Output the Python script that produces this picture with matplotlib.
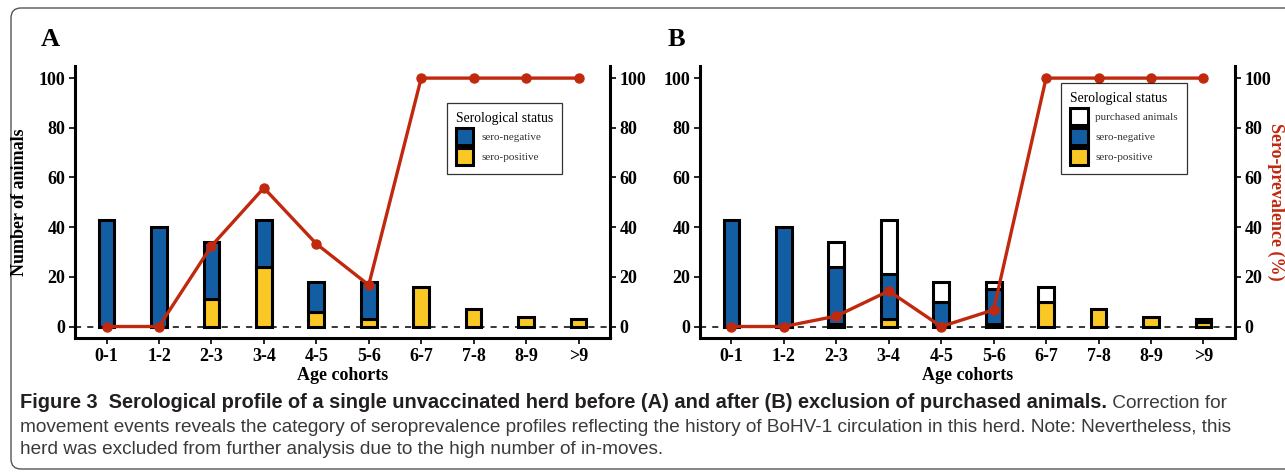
import numpy as np
import matplotlib
matplotlib.use("Agg")
import matplotlib.pyplot as plt
from matplotlib.patches import FancyBboxPatch, Patch

# data
COHORTS = ["0-1", "1-2", "2-3", "3-4", "4-5", "5-6", "6-7", "7-8", "8-9", ">9"]

A_POS = [0, 0, 11, 24, 6, 3, 16, 7, 4, 3]
A_NEG = [43, 40, 23, 19, 12, 15, 0, 0, 0, 0]
A_PREV = [0, 0, 32.4, 55.8, 33.3, 16.7, 100, 100, 100, 100]

B_POS = [0, 0, 1, 3, 0, 1, 10, 7, 4, 2]
B_NEG = [43, 40, 23, 18, 10, 14, 0, 0, 0, 0]
B_PUR = [0, 0, 10, 22, 8, 3, 6, 0, 0, 1]
B_PREV = [0, 0, 4.2, 14.3, 0, 6.7, 100, 100, 100, 100]

CAP_BOLD = ("Figure 3  Serological profile of a single unvaccinated herd before (A) "
            "and after (B) exclusion of purchased animals.")
CAP_REST = [" Correction for",
            "movement events reveals the category of seroprevalence profiles reflecting "
            "the history of BoHV-1 circulation in this herd. Note: Nevertheless, this",
            "herd was excluded from further analysis due to the high number of in-moves."]

# style
BLUE = "#135ea3"
YELLOW = "#f9c824"
RED = "#c0290e"
SERIF = "Liberation Serif"
CAP_FONT = ["Liberation Sans", "DejaVu Sans"]
CAP_FS_BOLD = 14.4
CAP_FS = 13.65
TICK_FS = 13
LAB_FS = 13
BAR_W = 0.3
EDGE_LW = 2.2

plt.rcParams.update({"font.family": SERIF, "font.weight": "bold",
                     "axes.labelweight": "bold"})

W, H = 1285, 476
fig = plt.figure(figsize=(W / 100, H / 100), dpi=100)

# background axis for border and caption
bg = fig.add_axes([0, 0, 1, 1])
bg.set_xlim(0, W)
bg.set_ylim(H, 0)
bg.axis("off")
bg.add_patch(FancyBboxPatch((11, 8), 1320, 461, boxstyle="round,pad=0,rounding_size=10",
                            fc="none", ec="#555555", lw=1.0))


def draw_panel(rect, letter, segs, prev, show_ylab, show_rlab, leg_anchor):
    ax = fig.add_axes(rect)
    x = np.arange(len(COHORTS))
    handles = []
    bottom = np.zeros(len(COHORTS))
    for vals, col, name in segs:
        vals = np.array(vals, dtype=float)
        m = vals > 0
        ax.bar(x[m], vals[m], bottom=bottom[m], width=BAR_W, color=col,
               edgecolor="black", linewidth=EDGE_LW, zorder=2)
        bottom += vals
        handles.append(Patch(facecolor=col, edgecolor="black", linewidth=EDGE_LW, label=name))

    ax.axhline(0, color="black", lw=1.1, ls=(0, (4, 4)), zorder=1)
    ax.set_xlim(-0.6, 9.6)
    ax.set_ylim(-4.8, 105)
    ax.set_xticks(x)
    ax.set_xticklabels(COHORTS)
    ax.set_yticks([0, 20, 40, 60, 80, 100])
    for s in ("top", "right"):
        ax.spines[s].set_visible(False)
    for s in ("left", "bottom"):
        ax.spines[s].set_linewidth(2.2)
    ax.tick_params(axis="both", labelsize=TICK_FS, width=1.2, length=4, pad=3)
    ax.set_xlabel("Age cohorts", fontsize=LAB_FS, fontweight="bold", labelpad=1)
    if show_ylab:
        ax.set_ylabel("Number of animals", fontsize=LAB_FS, fontweight="bold")
        ax.yaxis.set_label_coords(-0.088, 0.5)

    ax2 = ax.twinx()
    ax2.set_ylim(ax.get_ylim())
    ax2.set_yticks([0, 20, 40, 60, 80, 100])
    for s in ("top", "left", "bottom"):
        ax2.spines[s].set_visible(False)
    ax2.spines["right"].set_linewidth(2.2)
    ax2.tick_params(axis="y", labelsize=TICK_FS, width=1.2, length=4, pad=3)
    ax2.plot(x, prev, color=RED, lw=2.4, marker="o", ms=6.5, zorder=3)
    if show_rlab:
        ax2.set_ylabel("Sero-prevalence (%)", fontsize=LAB_FS, fontweight="bold",
                       color=RED, rotation=270, va="center", ha="center")
        ax2.yaxis.set_label_coords(1.076, 0.5)

    # legend lists the top segment first
    leg = ax2.legend(handles=handles[::-1], title="Serological status", loc="upper left",
                     bbox_to_anchor=leg_anchor, borderaxespad=0, frameon=True,
                     fancybox=False, edgecolor="black",
                     prop={"family": SERIF, "weight": "normal", "size": 8},
                     title_fontproperties={"family": SERIF, "weight": "normal", "size": 9.8},
                     handlelength=1.6, handleheight=2.0, labelspacing=0.25,
                     handletextpad=0.7, borderpad=0.8, alignment="left")
    leg.get_frame().set_linewidth(0.9)
    for t in leg.get_texts():
        t.set_color("#333333")

    fig.text(rect[0] - 0.027 if letter == "A" else rect[0] - 0.025, 0.916, letter,
             fontsize=19, fontweight="bold", va="center", ha="left")
    return ax


draw_panel([0.0584, 0.289, 0.4163, 0.573], "A",
           [(A_POS, YELLOW, "sero-positive"), (A_NEG, BLUE, "sero-negative")],
           A_PREV, True, False, (0.695, 0.8635))
draw_panel([0.5447, 0.289, 0.4163, 0.573], "B",
           [(B_POS, YELLOW, "sero-positive"), (B_NEG, BLUE, "sero-negative"),
            (B_PUR, "white", "purchased animals")],
           B_PREV, False, True, (0.675, 0.936))

# caption
t1 = bg.text(20, 403, CAP_BOLD, fontsize=CAP_FS_BOLD, family=CAP_FONT, fontweight="bold",
             color="#231f20", va="center", ha="left")
bg.annotate(CAP_REST[0], xy=(1, 0.5), xycoords=t1, va="center", ha="left",
            fontsize=CAP_FS, family=CAP_FONT, fontweight="normal", color="#3a3a3a")
bg.text(20, 427, CAP_REST[1], fontsize=CAP_FS, family=CAP_FONT, fontweight="normal",
        color="#3a3a3a", va="center", ha="left")
bg.text(20, 450, CAP_REST[2], fontsize=CAP_FS, family=CAP_FONT, fontweight="normal",
        color="#3a3a3a", va="center", ha="left")

fig.savefig("out.png", dpi=100)
